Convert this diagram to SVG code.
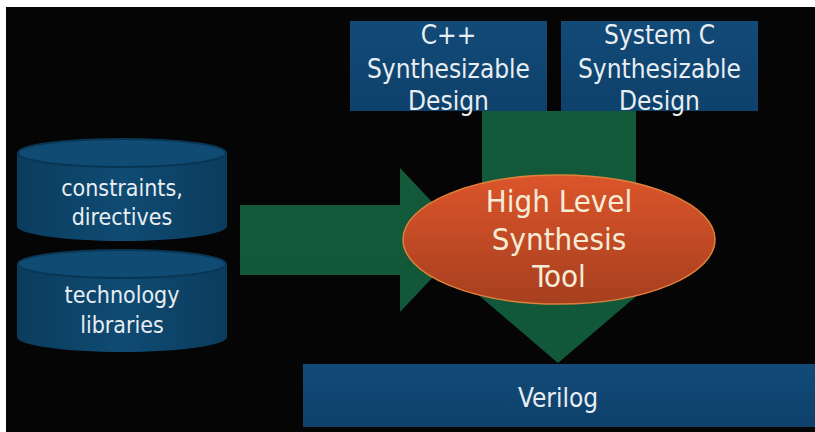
<svg xmlns="http://www.w3.org/2000/svg" width="815" height="432" viewBox="0 0 815 432">
  <style>
    .lbl { font-family: "DejaVu Sans Condensed", "DejaVu Sans", sans-serif; font-stretch: condensed; fill: #e9eef2; text-anchor: middle; }
    .box { fill: url(#boxGrad); }
    .cylBody { fill: url(#cylGrad); }
    .cylTop { fill: #0f4b72; stroke: #0a3655; stroke-width: 2; }
    .arrow { fill: url(#greenGrad); }
    .tool { font-family: "DejaVu Sans Condensed", "DejaVu Sans", sans-serif; font-stretch: condensed; fill: #f6ecd6; text-anchor: middle; font-size: 31px; }
  </style>
  <defs>
    <linearGradient id="boxGrad" x1="0" y1="0" x2="0" y2="1">
      <stop offset="0" stop-color="#124a78"/>
      <stop offset="1" stop-color="#0e416b"/>
    </linearGradient>
    <linearGradient id="cylGrad" x1="0" y1="0" x2="1" y2="0">
      <stop offset="0" stop-color="#0b3c5d"/>
      <stop offset="0.5" stop-color="#0f4b73"/>
      <stop offset="1" stop-color="#0b3c5d"/>
    </linearGradient>
    <linearGradient id="greenGrad" x1="0" y1="0" x2="0" y2="1">
      <stop offset="0" stop-color="#135a3a"/>
      <stop offset="1" stop-color="#11583a"/>
    </linearGradient>
    <linearGradient id="toolGrad" x1="0" y1="0" x2="0" y2="1">
      <stop offset="0" stop-color="#dc552b"/>
      <stop offset="1" stop-color="#a63f1f"/>
    </linearGradient>
  </defs>

  <rect x="0" y="0" width="815" height="432" fill="#ffffff"/>
  <rect x="6" y="7" width="809" height="425" fill="#050505"/>

  <g id="connectors">
    <polygon class="arrow" points="240,205 400,205 400,168 468,240 400,312 400,275 240,275"/>
    <polygon class="arrow" points="482,111 636,111 636,275 661,275 558,363 455,275 482,275"/>
  </g>

  <g id="cpp">
    <rect class="box" x="350" y="21" width="197" height="90"/>
    <text class="lbl" font-size="26" x="448.5" y="44">C++</text>
    <text class="lbl" font-size="26" x="448.5" y="78">Synthesizable</text>
    <text class="lbl" font-size="26" x="448.5" y="110">Design</text>
  </g>

  <g id="systemc">
    <rect class="box" x="561" y="21" width="197" height="90"/>
    <text class="lbl" font-size="26" x="659.5" y="44">System C</text>
    <text class="lbl" font-size="26" x="659.5" y="78">Synthesizable</text>
    <text class="lbl" font-size="26" x="659.5" y="110">Design</text>
  </g>

  <g id="constraints">
    <path class="cylBody" d="M17,153 L17,226 A105,15 0 0 0 227,226 L227,153 Z"/>
    <ellipse class="cylTop" cx="122" cy="153" rx="104" ry="14"/>
    <text class="lbl" font-size="23" x="122" y="196">constraints,</text>
    <text class="lbl" font-size="23" x="122" y="225">directives</text>
  </g>

  <g id="technology">
    <path class="cylBody" d="M17,264 L17,337 A105,15 0 0 0 227,337 L227,264 Z"/>
    <ellipse class="cylTop" cx="122" cy="264" rx="104" ry="14"/>
    <text class="lbl" font-size="23" x="122" y="303">technology</text>
    <text class="lbl" font-size="23" x="122" y="333">libraries</text>
  </g>

  <g id="hls">
    <ellipse cx="559" cy="239.5" rx="156" ry="64.5" fill="url(#toolGrad)" stroke="#e0803a" stroke-width="1.5"/>
    <text class="tool" x="559" y="212">High Level</text>
    <text class="tool" x="559" y="250">Synthesis</text>
    <text class="tool" x="559" y="287">Tool</text>
  </g>

  <g id="verilog">
    <rect class="box" x="303" y="364" width="512" height="63"/>
    <text class="lbl" font-size="26" x="558" y="407">Verilog</text>
  </g>
</svg>
